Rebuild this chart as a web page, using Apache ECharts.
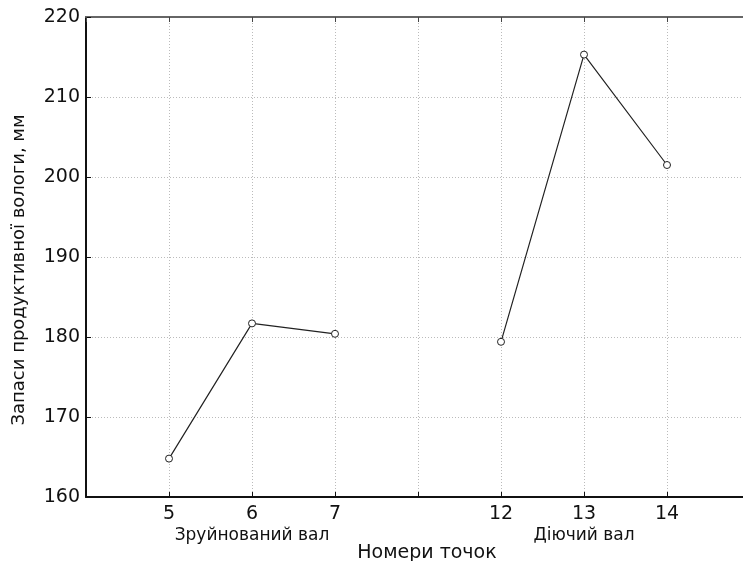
<!DOCTYPE html>
<html>
<head>
<meta charset="utf-8">
<script src="https://cdn.jsdelivr.net/npm/echarts@6/dist/echarts.min.js"></script>
<style>
  html, body { margin: 0; padding: 0; background: #fff; }
  #chart { width: 743px; height: 561px; }
</style>
</head>
<body>
<div id="chart"></div>
<script>
// номери точок на осі X (порожні позиції - проміжки)
const pointLabels = ['', '5', '6', '7', '', '12', '13', '14'];
// підписи груп під точками 6 та 13
const groupLabels = { '6': 'Зруйнований вал', '13': 'Діючий вал' };
// зруйнований вал: точки 5, 6, 7
const ruinedPoints = ['5', '6', '7'];
const ruinedValues = [164.8, 181.7, 180.4];
// діючий вал: точки 12, 13, 14
const activePoints = ['12', '13', '14'];
const activeValues = [179.4, 215.3, 201.5];

const yMin = 160, yMax = 220, yStep = 10;

const toPairs = (points, values) =>
  points.map((p, i) => [pointLabels.indexOf(p), values[i]]);

const font = 'DejaVu Sans, sans-serif';

const lineSeries = (name, data) => ({
  name: name,
  type: 'line',
  data: data,
  symbol: 'circle',
  symbolSize: 7,
  itemStyle: { color: '#fff', borderColor: '#222', borderWidth: 1 },
  lineStyle: { color: '#222', width: 1.2 },
  z: 3
});

const chart = echarts.init(document.getElementById('chart'));
chart.setOption({
  backgroundColor: '#fff',
  animation: false,
  grid: { left: 86, right: -7, top: 17, bottom: 64, outerBoundsMode: 'none', containLabel: false },
  xAxis: [
    {
      type: 'value',
      min: 0,
      max: pointLabels.length,
      interval: 1,
      name: 'Номери точок',
      nameLocation: 'middle',
      nameGap: 47,
      nameMoveOverlap: false,
      nameTextStyle: { fontFamily: font, fontSize: 19, color: '#111', padding: [0, 0, 0, 18] },
      axisLine: { show: true, onZero: false, lineStyle: { color: '#111', width: 2 } },
      axisTick: { show: true, inside: true, length: 5, lineStyle: { color: '#111' } },
      splitLine: { show: true, lineStyle: { color: '#bbb', type: [1, 2], width: 1 } },
      axisLabel: {
        fontFamily: font,
        fontSize: 19,
        color: '#111',
        margin: 6,
        lineHeight: 22,
        formatter: v => {
          const lab = pointLabels[v] || '';
          if (groupLabels[lab]) return lab + '\n{g|' + groupLabels[lab] + '}';
          return lab;
        },
        rich: { g: { fontFamily: font, fontSize: 17, color: '#111', lineHeight: 22 } }
      }
    },
    {
      type: 'value',
      position: 'top',
      min: 0,
      max: pointLabels.length,
      interval: 1,
      axisLine: { show: true, onZero: false, lineStyle: { color: '#666', width: 2 } },
      axisTick: { show: true, inside: true, length: 5, lineStyle: { color: '#444' } },
      axisLabel: { show: false },
      splitLine: { show: false }
    }
  ],
  yAxis: {
    type: 'value',
    min: yMin,
    max: yMax,
    interval: yStep,
    name: 'Запаси продуктивної вологи, мм',
    nameLocation: 'middle',
    nameGap: 58,
    nameMoveOverlap: false,
    nameTextStyle: { fontFamily: font, fontSize: 18, color: '#111', padding: [0, 26, 0, 0] },
    axisLine: { show: true, lineStyle: { color: '#111', width: 2 } },
    axisTick: { show: true, inside: true, length: 5, lineStyle: { color: '#111' } },
    splitLine: { show: true, lineStyle: { color: '#bbb', type: [1, 2], width: 1 } },
    axisLabel: { fontFamily: font, fontSize: 19, color: '#111', margin: 6 }
  },
  series: [
    lineSeries('Зруйнований вал', toPairs(ruinedPoints, ruinedValues)),
    lineSeries('Діючий вал', toPairs(activePoints, activeValues))
  ]
});
</script>
</body>
</html>
